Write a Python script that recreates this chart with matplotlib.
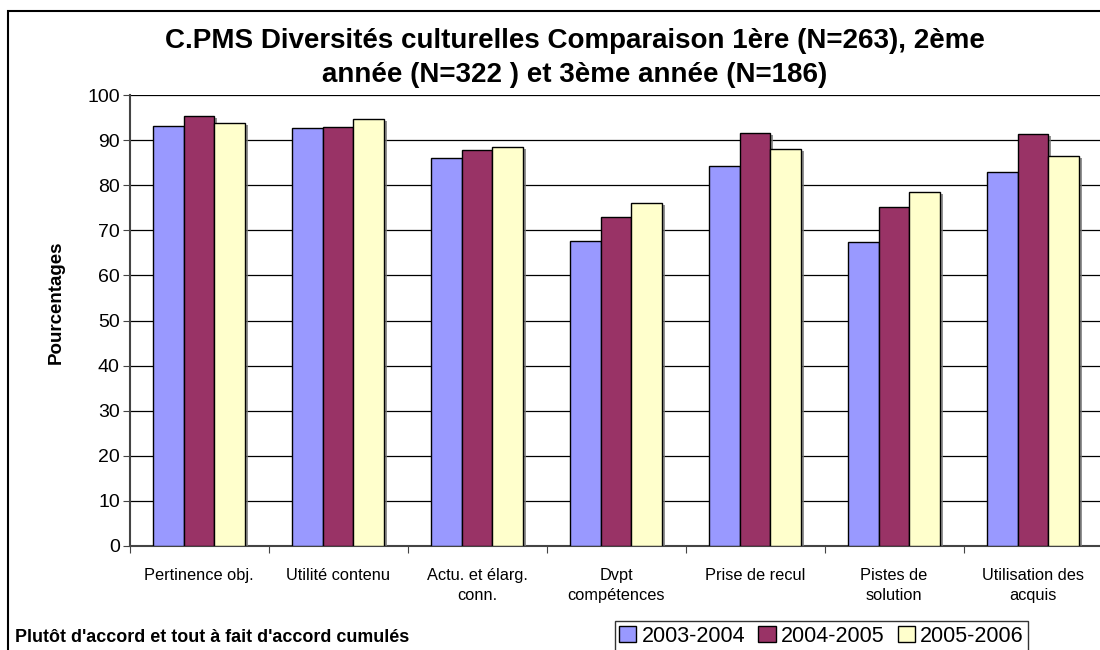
import numpy as np
import matplotlib
matplotlib.use('Agg')
import matplotlib.pyplot as plt
from matplotlib.patches import Rectangle
import matplotlib.patheffects as pe

plt.rcParams['font.family'] = ['Liberation Sans', 'DejaVu Sans']

categories = ['Pertinence obj.', 'Utilité contenu', 'Actu. et élarg.\nconn.',
              'Dvpt\ncompétences', 'Prise de recul', 'Pistes de\nsolution',
              'Utilisation des\nacquis']
years = ['2003-2004', '2004-2005', '2005-2006']
v2003 = [93.2, 92.6, 86.0, 67.6, 84.3, 67.3, 82.9]
v2004 = [95.4, 92.9, 87.8, 72.9, 91.6, 75.2, 91.3]
v2005 = [93.7, 94.7, 88.4, 76.1, 88.1, 78.6, 86.5]
colors = ['#9999FF', '#993366', '#FFFFCC']

W, H = 1100, 650
fig = plt.figure(figsize=(11, 6.5), dpi=100)
ax = fig.add_axes([129.5 / W, 1 - 546 / H, 973 / W, 451 / H])

x = np.arange(len(categories))
bw = 0.223
shadow = [pe.SimplePatchShadow(offset=(1.5, -1.5), shadow_rgbFace='#777777', alpha=0.8), pe.Normal()]
for i, (vals, c, lab) in enumerate(zip([v2003, v2004, v2005], colors, years)):
    ax.bar(x + (i - 1) * bw, vals, bw, color=c, edgecolor='black', linewidth=1.0,
           label=lab, zorder=3, path_effects=shadow)

ax.set_xlim(-0.5, len(categories) - 0.5)
ax.set_ylim(0, 100)
ax.set_yticks(range(0, 101, 10))
ax.yaxis.grid(True, color='black', linewidth=0.9, zorder=0)
ax.tick_params(axis='y', labelsize=14, direction='out', length=5, color='#444444', pad=2)

# categories sit between boundary ticks
ax.set_xticks(np.arange(len(categories) + 1) - 0.5)
ax.set_xticklabels([])
ax.set_xticks(x, minor=True)
ax.set_xticklabels(categories, minor=True, fontsize=11.8, linespacing=1.4)
ax.tick_params(axis='x', which='major', direction='out', length=5, color='#444444')
ax.tick_params(axis='x', which='minor', length=0, pad=16)

for s in ['top', 'right']:
    ax.spines[s].set_visible(False)
for s in ['left', 'bottom']:
    ax.spines[s].set_color('#444444')
    ax.spines[s].set_linewidth(1.5)

ax.set_ylabel('Pourcentages', fontsize=13.5, fontweight='bold')
ax.yaxis.set_label_coords((65 - 129.5) / 973, (546 - 302) / 451)

fig.text(575 / W, 1 - 58 / H,
         'C.PMS Diversités culturelles Comparaison 1ère (N=263), 2ème\nannée (N=322 ) et 3ème année (N=186)',
         ha='center', va='center', fontsize=20, fontweight='bold', linespacing=1.4)

fig.text(15 / W, 1 - 637 / H, "Plutôt d'accord et tout à fait d'accord cumulés",
         ha='left', va='center', fontsize=12.9, fontweight='bold')

leg = fig.legend(loc='center', bbox_to_anchor=(821.5 / W, 1 - 636 / H), ncol=3,
                 fontsize=15.5, frameon=True, fancybox=False, handlelength=0.8,
                 handleheight=0.8, handletextpad=0.25, columnspacing=0.6,
                 borderpad=0.2, borderaxespad=0)
leg.get_frame().set_edgecolor('black')
leg.get_frame().set_linewidth(1.0)
for h in leg.legend_handles:
    h.set_path_effects([])

fig.patches.append(Rectangle((8 / W, -0.05), 1.1, 1 - 11 / H + 0.05, transform=fig.transFigure,
                             fill=False, edgecolor='black', linewidth=1.5, zorder=0))

fig.savefig('out.png', dpi=100)
